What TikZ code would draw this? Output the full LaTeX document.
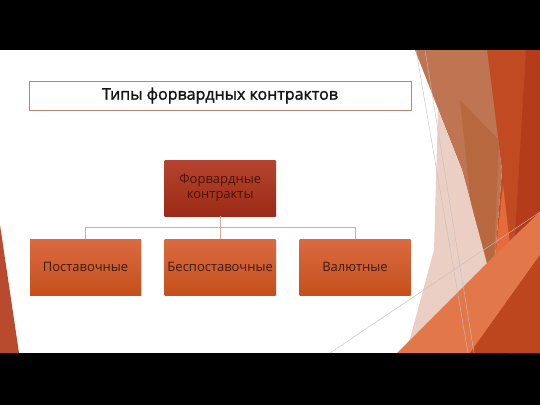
\documentclass[tikz,border=0pt]{standalone}
\usepackage{fontspec}
\setmainfont{Open Sans}
\newfontfamily\titlefont[FakeBold=1.6]{Open Sans}
\usetikzlibrary{shadows}
\definecolor{redbase}{HTML}{C24A22}
\definecolor{darkedge}{HTML}{B53C1B}
\definecolor{tanc}{HTML}{BF7552}
\definecolor{tandark}{HTML}{B7683F}
\definecolor{palec}{HTML}{EBCFC5}
\definecolor{orangec}{HTML}{E2784A}
\definecolor{brightc}{HTML}{E66A3A}
\definecolor{bottomred}{HTML}{BD461F}
\definecolor{leftred}{HTML}{B94A2E}
\definecolor{titleline}{HTML}{B88474}
\definecolor{conn}{HTML}{D9AA94}
\definecolor{toptop}{HTML}{B4442F}
\definecolor{topbot}{HTML}{9C2A16}
\definecolor{toptext}{HTML}{4A1408}
\definecolor{subtop}{HTML}{DA6A40}
\definecolor{subbot}{HTML}{C4501C}
\definecolor{subtext}{HTML}{3A1E14}
\tikzset{
  titlebox/.style={draw=titleline, line width=1pt, fill=white, minimum width=382pt, minimum height=29pt, inner sep=0pt, font=\titlefont\fontsize{16}{19}\selectfont, text=black!92},
  headbox/.style={top color=toptop, bottom color=topbot, minimum width=111pt, minimum height=56pt, inner sep=0pt, align=center, text=toptext, font=\fontsize{13}{15}\selectfont, drop shadow={opacity=0.2, shadow xshift=0.8pt, shadow yshift=-0.8pt}},
  subbox/.style={top color=subtop, bottom color=subbot, minimum width=111pt, minimum height=56pt, inner sep=0pt, align=center, text=subtext, font=\fontsize{13}{15}\selectfont, drop shadow={opacity=0.2, shadow xshift=0.8pt, shadow yshift=-0.8pt}},
  connector/.style={draw=conn, line width=0.9pt},
  thinline/.style={draw=black!25, line width=0.4pt}
}
\begin{document}
\begin{tikzpicture}[x=1pt,y=-1pt]
\useasboundingbox (0,0) rectangle (540,405);
\fill[black] (0,0) rectangle (540,405);
\fill[white] (0,50) rectangle (540,353);
% right decoration
\fill[redbase] (485,50) -- (540,50) -- (540,353) -- (440,353) -- (493,285) -- (502,170) -- cycle;
\fill[darkedge] (526,50) -- (540,50) -- (540,353) -- (508,353) -- cycle;
\fill[tanc] (415,50) -- (487,50) -- (502,170) -- (493,285) -- (462,170) -- cycle;
\fill[tandark] (460,100) -- (499,140) -- (493,285) -- (474,235) -- cycle;
\fill[palec] (438,110) -- (462,170) -- (490,275) -- (440,330) -- (408,346) -- (434,250) -- cycle;
\fill[brightc] (503,185) -- (512,262) -- (493,278) -- cycle;
\fill[orangec] (397,353) -- (500,250) -- (540,212) -- (540,255) -- (470,353) -- cycle;
\fill[bottomred] (470,353) -- (540,255) -- (540,353) -- cycle;
\draw[thinline] (416,50) -- (468,353);
\draw[thinline] (425,50) -- (474,353);
\draw[thinline] (330,353) -- (540,212);
% left decoration
\fill[leftred] (0,225) -- (19,353) -- (0,353) -- cycle;
% title
\node[titlebox] (title) at (220,95.5) {Типы форвардных контрактов};
% hierarchy
\node[headbox] (head) at (220.2,188) {Форвардные\\контракты};
\node[subbox] (s1) at (85.5,267) {Поставочные};
\node[subbox] (s2) at (220.2,267) {Беспоставочные};
\node[subbox] (s3) at (355,267) {Валютные};
\coordinate (bus) at ([yshift=-11.3pt]head.south);
\draw[connector] (head.south) -- (bus);
\draw[connector] (s1.north) |- (bus) -| (s3.north);
\draw[connector] (bus) -- (s2.north);
\end{tikzpicture}
\end{document}
